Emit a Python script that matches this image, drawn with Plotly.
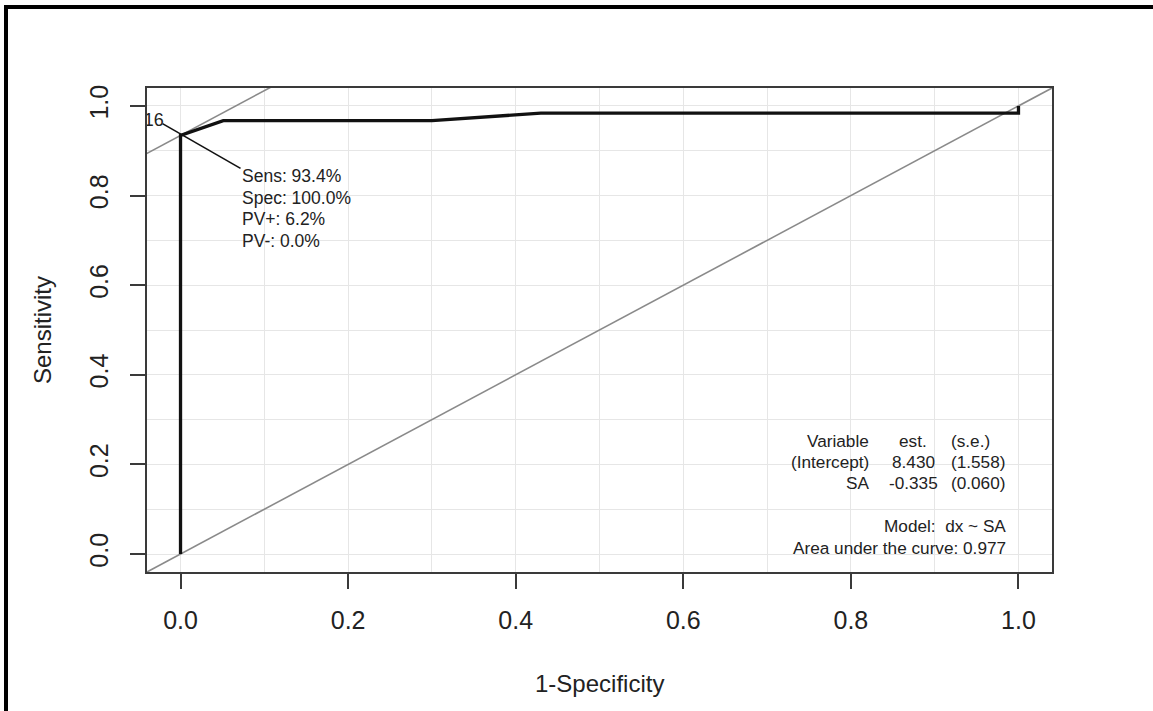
import plotly.graph_objects as go

# ---------------- data ----------------
fpr = [0.0, 0.0, 0.051, 0.30, 0.43, 1.0, 1.0]
tpr = [0.0, 0.934, 0.967, 0.967, 0.984, 0.984, 1.0]

opt_fpr = 0.0
opt_tpr = 0.934
cutoff_label = "16"
stats_lines = ["Sens: 93.4%", "Spec: 100.0%", "PV+: 6.2%", "PV-: 0.0%"]

table_header = ["Variable", "est.", "(s.e.)"]
variables = ["(Intercept)", "SA"]
estimates = ["8.430", "-0.335"]
std_errs = ["(1.558)", "(0.060)"]
model_text = "Model:  dx ~ SA"
auc_text = "Area under the curve: 0.977"

tick_vals = [0.0, 0.2, 0.4, 0.6, 0.8, 1.0]
tick_text = ["0.0", "0.2", "0.4", "0.6", "0.8", "1.0"]

# ---------------- layout geometry ----------------
W, H = 1153, 711
L, R, T, B = 147, 1052, 88, 572
PW, PH = R - L, B - T
FONT = "Arial, Liberation Sans, sans-serif"
TXT = "#222222"

def px(xp):
    return (xp - L) / PW

def py(yp):
    return (B - yp) / PH

fig = go.Figure()

# diagonal reference line
fig.add_trace(go.Scatter(x=[-0.2, 1.2], y=[-0.2, 1.2], mode="lines",
                         line=dict(color="#8a8a8a", width=1.6),
                         hoverinfo="skip", showlegend=False))
# slope-1 line through optimal point
fig.add_trace(go.Scatter(x=[-0.2, 0.3], y=[opt_tpr - 0.2, opt_tpr + 0.3], mode="lines",
                         line=dict(color="#8a8a8a", width=1.6),
                         hoverinfo="skip", showlegend=False))
# ROC curve
fig.add_trace(go.Scatter(x=fpr, y=tpr, mode="lines",
                         line=dict(color="#111111", width=3.3),
                         hoverinfo="skip", showlegend=False))
# pointer line from cutoff label to stats text
fig.add_trace(go.Scatter(x=[opt_fpr - 0.0215, opt_fpr + 0.0716],
                         y=[opt_tpr + 0.0266, opt_tpr - 0.0734], mode="lines",
                         line=dict(color="#111111", width=1.6),
                         hoverinfo="skip", showlegend=False))
# cutoff label (clipped by plot area)
fig.add_trace(go.Scatter(x=[opt_fpr - 0.0318], y=[opt_tpr + 0.031], mode="text",
                         text=[cutoff_label], textposition="middle center",
                         textfont=dict(family=FONT, size=18, color=TXT),
                         cliponaxis=True, hoverinfo="skip", showlegend=False))

annotations = []
# stats text block
for i, s in enumerate(stats_lines):
    annotations.append(dict(x=0.0704, y=0.8426 - i * 0.0478, xref="x", yref="y",
                            text=s, showarrow=False, xanchor="left", yanchor="middle",
                            font=dict(family=FONT, size=17.5, color=TXT)))

# coefficient table
row_y = [0.2513, 0.2046, 0.1579]
col1 = [table_header[0]] + variables
col2 = [table_header[1]] + estimates
col3 = [table_header[2]] + std_errs
TS = 17.2
for i in range(3):
    annotations.append(dict(x=0.8234, y=row_y[i], xref="x", yref="y", text=col1[i],
                            showarrow=False, xanchor="right", yanchor="middle",
                            font=dict(family=FONT, size=TS, color=TXT)))
    annotations.append(dict(x=0.8747, y=row_y[i], xref="x", yref="y", text=col2[i],
                            showarrow=False, xanchor="center", yanchor="middle",
                            font=dict(family=FONT, size=TS, color=TXT)))
    annotations.append(dict(x=0.9165, y=row_y[i], xref="x", yref="y", text=col3[i],
                            showarrow=False, xanchor="left", yanchor="middle",
                            font=dict(family=FONT, size=TS, color=TXT)))
annotations.append(dict(x=0.9869, y=0.0623, xref="x", yref="y", text=model_text,
                        showarrow=False, xanchor="right", yanchor="middle",
                        font=dict(family=FONT, size=TS, color=TXT)))
annotations.append(dict(x=0.9869, y=0.0133, xref="x", yref="y", text=auc_text,
                        showarrow=False, xanchor="right", yanchor="middle",
                        font=dict(family=FONT, size=TS, color=TXT)))

# axis titles
annotations.append(dict(x=px(42), y=0.5, xref="paper", yref="paper", text="Sensitivity",
                        textangle=-90, showarrow=False, xanchor="center", yanchor="middle",
                        font=dict(family=FONT, size=24, color=TXT)))
annotations.append(dict(x=0.5, y=py(683), xref="paper", yref="paper", text="1-Specificity",
                        showarrow=False, xanchor="center", yanchor="middle",
                        font=dict(family=FONT, size=24, color=TXT)))

# outer image frame (top and left edges)
shapes = [
    dict(type="line", xref="paper", yref="paper", x0=px(6), x1=px(W + 5), y0=py(7), y1=py(7),
         line=dict(color="black", width=4)),
    dict(type="line", xref="paper", yref="paper", x0=px(6), x1=px(6), y0=py(5), y1=py(H + 5),
         line=dict(color="black", width=4)),
]

axis_common = dict(
    range=[-0.04, 1.04], tickvals=tick_vals, ticktext=tick_text,
    showgrid=True, gridcolor="#e6e6e6", gridwidth=1,
    minor=dict(dtick=0.1, tick0=0, showgrid=True, gridcolor="#e6e6e6", gridwidth=1, ticks=""),
    zeroline=False, showline=True, mirror=True, linecolor="#3a3a3a", linewidth=1.6,
    ticks="outside", ticklen=15, tickwidth=1.6, tickcolor="#3a3a3a",
    tickfont=dict(family=FONT, size=25, color=TXT),
    fixedrange=True,
)

fig.update_layout(
    width=W, height=H,
    margin=dict(l=L, r=W - R, t=T, b=H - B, autoexpand=False),
    paper_bgcolor="white", plot_bgcolor="white",
    xaxis=dict(**axis_common, ticklabelstandoff=10),
    yaxis=dict(**axis_common, tickangle=-90, ticklabelstandoff=12),
    annotations=annotations, shapes=shapes,
    showlegend=False,
)

fig.write_html("out.html")
